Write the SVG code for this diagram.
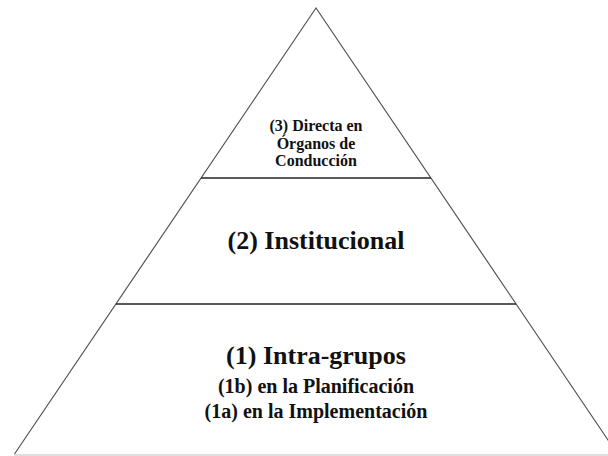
<svg xmlns="http://www.w3.org/2000/svg" width="608" height="456" viewBox="0 0 608 456">
  <style>
    .side { stroke: #555; stroke-width: 1.2; fill: none; }
    .div { stroke: #222; stroke-width: 1.4; fill: none; }
    .base { stroke: #d4d4d4; stroke-width: 1.5; fill: none; }
    text { font-family: "Liberation Serif", "Times New Roman", serif; font-weight: bold; fill: #111; text-anchor: middle; }
    .t3 { font-size: 16px; }
    .t2 { font-size: 26px; }
    .t1 { font-size: 26px; }
    .t1s { font-size: 20px; }
  </style>
  <rect width="608" height="456" fill="#ffffff"/>
  <g id="pyramid">
    <polyline class="side" points="14.5,454 316,8 617.5,454"/>
    <line class="base" x1="14" y1="455" x2="608" y2="455"/>
  </g>
  <g id="connectors">
    <line class="div" x1="201" y1="178" x2="431" y2="178"/>
    <line class="div" x1="116" y1="304" x2="516" y2="304"/>
  </g>
  <g id="level3">
    <text class="t3" x="316" y="131">(3) Directa en</text>
    <text class="t3" x="316" y="148.5">Órganos de</text>
    <text class="t3" x="316" y="166">Conducción</text>
  </g>
  <g id="level2">
    <text class="t2" x="316" y="249">(2) Institucional</text>
  </g>
  <g id="level1">
    <text class="t1" x="316" y="364">(1) Intra-grupos</text>
    <text class="t1s" x="316" y="393">(1b) en la Planificación</text>
    <text class="t1s" x="316" y="418">(1a) en la Implementación</text>
  </g>
</svg>
